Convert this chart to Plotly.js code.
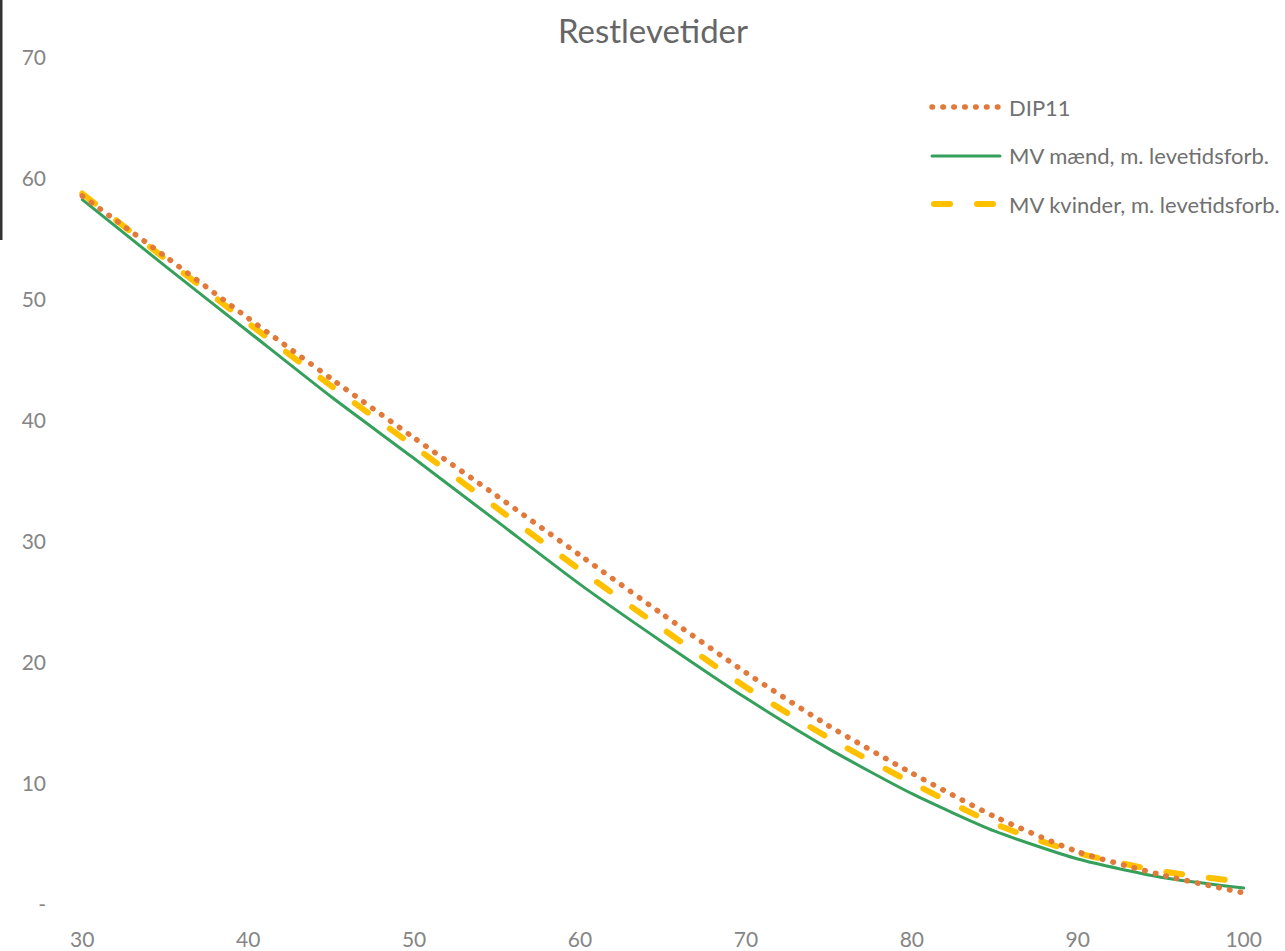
<!DOCTYPE html>
<html>
<head>
<meta charset="utf-8">
<script src="https://cdn.plot.ly/plotly-3.0.1.min.js"></script>
<style>
  html, body { margin: 0; padding: 0; background: #ffffff; }
  #chart { width: 1285px; height: 951px; }
  .scatterlayer .js-line, .shapelayer path { stroke-linecap: round; }
</style>
</head>
<body>
<div id="chart"></div>
<script>
// Ages (x) and remaining lifetimes
const ages = [30, 35, 40, 45, 50, 55, 60, 65, 70, 75, 80, 85, 90, 95, 100];
const dip11 = [58.6, 53.6, 48.5, 43.5, 38.6, 33.8, 28.9, 24.0, 19.2, 14.8, 10.9, 7.3, 4.4, 2.5, 1.0];
const mvMaend = [58.3, 52.8, 47.4, 42.0, 36.9, 31.7, 26.5, 21.7, 17.1, 12.9, 9.2, 6.1, 3.8, 2.3, 1.4];
const mvKvinder = [58.8, 53.4, 48.1, 42.9, 37.9, 32.8, 27.7, 22.8, 18.0, 13.8, 10.1, 6.7, 4.3, 2.8, 1.9];

const seriesNames = ["DIP11", "MV mænd, m. levetidsforb.", "MV kvinder, m. levetidsforb."];
const xTicks = [30, 40, 50, 60, 70, 80, 90, 100];
const yTickVals = [0, 10, 20, 30, 40, 50, 60, 70];
const yTickText = ["-", "10", "20", "30", "40", "50", "60", "70"];

const colOrange = "#E0793A";
const colGreen = "#35A05C";
const colYellow = "#FFC000";
const dotDash = "0.5px,10.4px";
const longDash = "16px,27px";

const traces = [
  { x: ages, y: mvMaend, name: seriesNames[1], mode: "lines",
    line: { color: colGreen, width: 3, shape: "spline", smoothing: 0.6 } },
  { x: ages, y: mvKvinder, name: seriesNames[2], mode: "lines",
    line: { color: colYellow, width: 6, dash: longDash, shape: "spline", smoothing: 0.6 } },
  { x: ages, y: dip11, name: seriesNames[0], mode: "lines",
    line: { color: colOrange, width: 5.5, dash: dotDash, shape: "spline", smoothing: 0.6 } }
];

// Plot area in pixels (for placing the custom legend in paper coordinates)
const L = 74, R = 1252, T = 58, B = 905;
const px = v => (v - L) / (R - L);
const py = v => (B - v) / (B - T);

const legendRows = [
  { y: 107, color: colOrange, width: 5.5, dash: dotDash, text: seriesNames[0] },
  { y: 156, color: colGreen, width: 3, dash: "solid", text: seriesNames[1] },
  { y: 204, color: colYellow, width: 6, dash: longDash, text: seriesNames[2] }
];

const shapes = legendRows.map(r => ({
  type: "line", xref: "paper", yref: "paper",
  x0: px(r.dash === longDash ? 934 : 932), x1: px(1000), y0: py(r.y), y1: py(r.y),
  line: { color: r.color, width: r.width, dash: r.dash }
}));
// dark scan edge on the left
shapes.push({ type: "rect", xref: "paper", yref: "paper", x0: px(0), x1: px(2.5), y0: py(240), y1: py(0),
  line: { width: 0 }, fillcolor: "#333333", layer: "above" });

const annotations = legendRows.map(r => ({
  xref: "paper", yref: "paper", x: px(1007), y: py(r.y), xanchor: "left", yanchor: "middle",
  text: r.text, showarrow: false, font: { family: "Lato, sans-serif", size: 22, color: "#707070" }
}));

const layout = {
  width: 1285, height: 951,
  paper_bgcolor: "#ffffff", plot_bgcolor: "#ffffff",
  margin: { l: L, r: 1285 - R, t: T, b: 951 - B, pad: 0 },
  showlegend: false,
  title: { text: "Restlevetider", x: 653 / 1285, xanchor: "center", y: 1 - 31 / 951, yanchor: "middle",
    xref: "container", yref: "container", font: { family: "Lato, sans-serif", size: 33, color: "#666666" } },
  xaxis: { range: [29.5, 100.5], tickvals: xTicks, ticktext: xTicks.map(String),
    showgrid: false, zeroline: false, showline: false, ticks: "",
    ticklabelstandoff: 20,
    tickfont: { family: "Lato, sans-serif", size: 21, color: "#858585" } },
  yaxis: { range: [0, 70], tickvals: yTickVals, ticktext: yTickText,
    showgrid: false, zeroline: false, showline: false, ticks: "",
    ticklabelstandoff: 27,
    tickfont: { family: "Lato, sans-serif", size: 21, color: "#858585" } },
  shapes: shapes,
  annotations: annotations
};

Plotly.newPlot("chart", traces, layout, { staticPlot: true, displayModeBar: false });
</script>
</body>
</html>
